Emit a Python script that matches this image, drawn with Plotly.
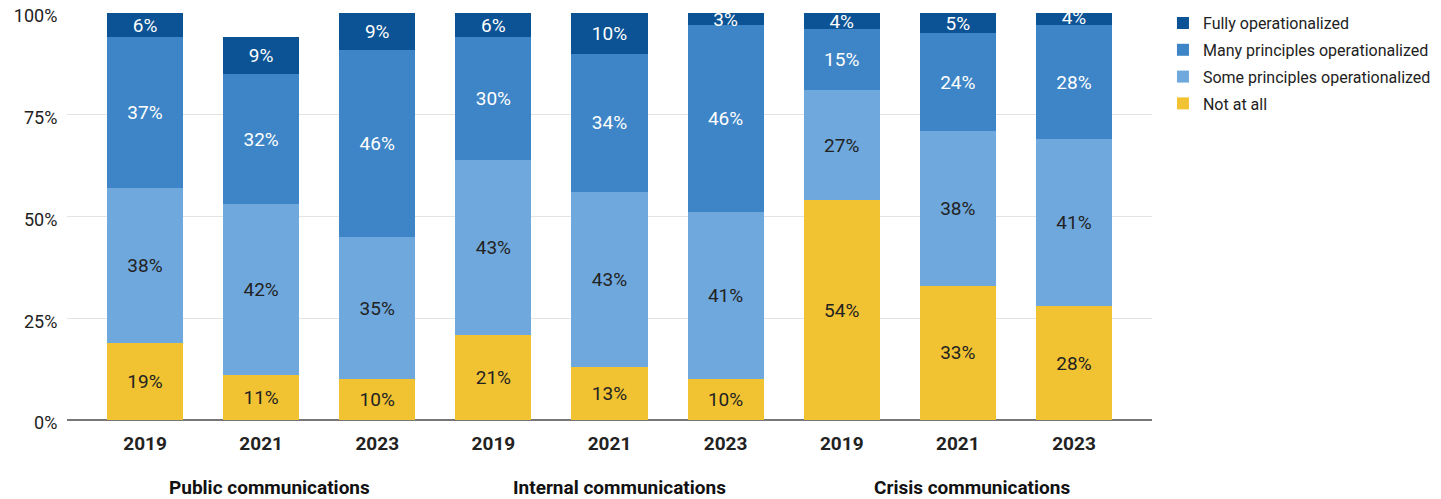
import plotly.graph_objects as go

years = ["2019", "2021", "2023", "2019", "2021", "2023", "2019", "2021", "2023"]
groups = ["Public communications", "Internal communications", "Crisis communications"]
group_label_offsets = [0.07, 0.09, 0.12]

not_at_all = [19, 11, 10, 21, 13, 10, 54, 33, 28]
some_principles = [38, 42, 35, 43, 43, 41, 27, 38, 41]
many_principles = [37, 32, 46, 30, 34, 46, 15, 24, 28]
fully = [6, 9, 9, 6, 10, 3, 4, 5, 4]

series = [
    ("Not at all", not_at_all, "#f1c232", "#222222", 4),
    ("Some principles operationalized", some_principles, "#6fa8dc", "#222222", 3),
    ("Many principles operationalized", many_principles, "#3d85c6", "#ffffff", 2),
    ("Fully operationalized", fully, "#0b5394", "#ffffff", 1),
]

xpos = list(range(len(years)))

fig = go.Figure()
for name, vals, color, tcolor, rank in series:
    fig.add_trace(go.Bar(
        x=xpos, y=vals, name=name, legendgroup=name, legendrank=rank,
        marker=dict(color=color, line=dict(width=0)),
        text=[f"{v}%" for v in vals],
        textposition="inside",
        insidetextanchor="middle",
        textangle=0,
        insidetextfont=dict(color=tcolor, size=19, family="Roboto"),
        hoverinfo="skip",
    ))

for i, g in enumerate(groups):
    fig.add_annotation(
        x=3 * i + 1 + group_label_offsets[i], y=-0.167, xref="x", yref="paper",
        text=f"<b>{g}</b>", showarrow=False,
        font=dict(size=19, family="Roboto", color="#111111"),
        xanchor="center", yanchor="middle",
    )

fig.update_layout(
    barmode="stack",
    bargap=0.345,
    width=1433, height=491,
    margin=dict(l=59, r=289, t=5, b=79, autoexpand=False),
    plot_bgcolor="white", paper_bgcolor="white",
    font=dict(family="Roboto", color="#222222"),
    uniformtext=dict(minsize=19, mode="show"),
    legend=dict(
        x=1.0101, y=1.017, xanchor="left", yanchor="top",
        traceorder="grouped",
        font=dict(size=16, family="Roboto", color="#222222"),
        itemwidth=30, tracegroupgap=3,
        bgcolor="rgba(0,0,0,0)",
    ),
    showlegend=True,
)

fig.update_xaxes(
    tickvals=xpos, ticktext=years,
    range=[-0.672, 8.672],
    tickfont=dict(size=19, family="Roboto", weight="bold", color="#222222"),
    ticks="outside", ticklen=6, tickcolor="rgba(0,0,0,0)",
    showgrid=False, showline=False, zeroline=False,
    automargin=False,
)
fig.update_yaxes(
    range=[0, 100],
    tickvals=[0, 25, 50, 75, 100],
    ticktext=["0%", "25%", "50%", "75%", "100%"],
    tickfont=dict(size=18, family="Roboto", color="#222222"),
    ticks="outside", ticklen=5, tickcolor="rgba(0,0,0,0)",
    ticklabeloverflow="allow", ticklabelshift=3,
    showgrid=True, gridcolor="#e3e3e3", gridwidth=1,
    zeroline=True, zerolinecolor="#777777", zerolinewidth=1.5,
    showline=False,
    automargin=False,
)

fig.write_html("out.html")
